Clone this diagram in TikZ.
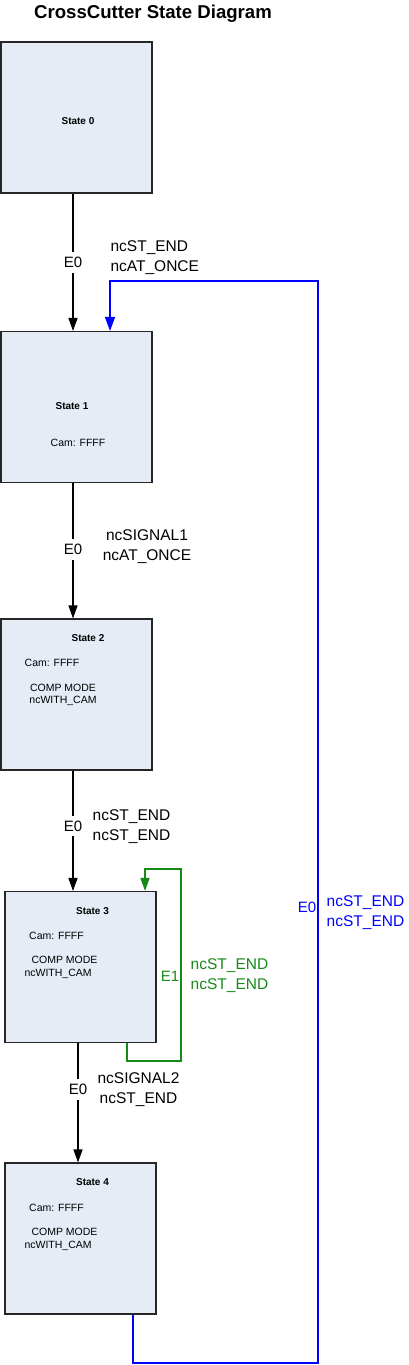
\documentclass[tikz,border=0pt]{standalone}
\usepackage{fontspec}
\setmainfont{Liberation Sans}
\usetikzlibrary{arrows.meta}
\definecolor{boxfill}{HTML}{E5ECF6}
\definecolor{loopgreen}{HTML}{168A16}
\definecolor{backblue}{HTML}{0000FF}

\begin{document}
\begin{tikzpicture}[x=1pt, y=-1pt, >={Triangle[width=9pt,length=13pt]}, line width=1.2pt,
    st/.style={draw=black!85, fill=boxfill, minimum width=151pt, minimum height=151pt, inner sep=0pt, line width=1.1pt},
    sn/.style={font=\fontsize{10}{12}\selectfont\bfseries, inner sep=0pt},
    sx/.style={font=\fontsize{10.5}{12.5}\selectfont, inner sep=0pt, align=center},
    ev/.style={font=\fontsize{15}{18}\selectfont, inner xsep=1pt, inner ysep=5pt},
    cd/.style={font=\fontsize{15.5}{20}\selectfont, align=center, inner sep=0pt}]

    \useasboundingbox (0,0) rectangle (408,1365);
    \node[font=\fontsize{18.6}{22}\selectfont\bfseries] (title) at (153,14) {CrossCutter State Diagram};

    \node[st] (s0) at (76.5,117.5) {};
    \node[st] (s1) at (76.5,407) {};
    \node[st] (s2) at (76.5,694.5) {};
    \node[st] (s3) at (80.5,967) {};
    \node[st] (s4) at (80.5,1238.5) {};

    \node[sn] (n0) at (78,121) {State 0};
    \node[sn] (n1) at (72,406) {State 1};
    \node[sx] (c1) at (78,443) {Cam: FFFF};
    \node[sn] (n2) at (88,638) {State 2};
    \node[sx] (c2) at (52,663) {Cam: FFFF};
    \node[sx] (m2) at (63,695) {COMP MODE\\ncWITH\_CAM};
    \node[sn] (n3) at (92.5,911) {State 3};
    \node[sx] (c3) at (56.5,936) {Cam: FFFF};
    \node[sx, align=left] (m3) at (61,967.5) {\hspace*{7pt}COMP MODE\\ncWITH\_CAM};
    \node[sn] (n4) at (92.5,1182) {State 4};
    \node[sx] (c4) at (56.5,1208) {Cam: FFFF};
    \node[sx, align=left] (m4) at (61,1239.5) {\hspace*{7pt}COMP MODE\\ncWITH\_CAM};

    \draw[->] ([xshift=-3.5pt]s0.south) -- node[ev, fill=white, pos=0.5] (e01) {E0} ([xshift=-3.5pt]s1.north);
    \node[cd, align=left, anchor=west] (k01) at (110,258) {ncST\_END\\ncAT\_ONCE};

    \draw[->] ([xshift=-3.5pt]s1.south) -- node[ev, fill=white, pos=0.49] (e12) {E0} ([xshift=-3.5pt]s2.north);
    \node[cd] (k12) at (147,547) {ncSIGNAL1\\ncAT\_ONCE};

    \draw[->] ([xshift=-3.5pt]s2.south) -- node[ev, fill=white, pos=0.46] (e23) {E0} ([xshift=-3.5pt]s2.south |- s3.north);
    \node[cd] (k23) at (131.5,826.5) {ncST\_END\\ncST\_END};

    \draw[->] ([xshift=-2.5pt]s3.south) -- node[ev, fill=white, pos=0.39] (e34) {E0} ([xshift=-2.5pt]s4.north);
    \node[cd] (k34) at (138.5,1090) {ncSIGNAL2\\ncST\_END};

    \coordinate (g1) at (181,1061);
    \coordinate (g2) at (181,869);
    \draw[->, loopgreen, line width=1.4pt] ([xshift=46.5pt]s3.south) |- (g1) -- node[ev, left, pos=0.44] (e33) {E1} (g2) -| ([xshift=64.5pt]s3.north);
    \node[cd, loopgreen] (k33) at (229.5,975.5) {ncST\_END\\ncST\_END};

    \coordinate (b1) at (318,1363);
    \coordinate (b2) at (318,281);
    \draw[->, backblue, line width=1.4pt, >={Triangle[width=10pt,length=14pt]}] ([xshift=52.5pt]s4.south) |- (b1) -- node[ev, left, pos=0.421] (e41) {E0} (b2) -| ([xshift=33.5pt]s1.north);
    \node[cd, backblue] (k41) at (365.5,913) {ncST\_END\\ncST\_END};
\end{tikzpicture}
\end{document}
